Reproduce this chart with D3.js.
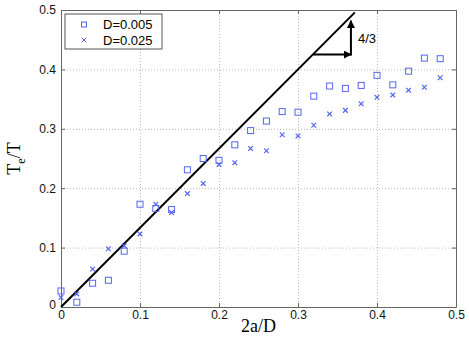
<!DOCTYPE html>
<html>
<head>
<meta charset="utf-8">
<script src="https://cdn.jsdelivr.net/npm/d3@7"></script>
<style>
  body { margin: 0; background: #fff; }
  svg { display: block; }
</style>
</head>
<body>
<svg id="chart" width="469" height="351"></svg>
<script>
// data
const xs = [0, 0.02, 0.04, 0.06, 0.08, 0.10, 0.12, 0.14, 0.16, 0.18, 0.20, 0.22, 0.24,
            0.26, 0.28, 0.30, 0.32, 0.34, 0.36, 0.38, 0.40, 0.42, 0.44, 0.46, 0.48];
const d005 = [0.027, 0.008, 0.040, 0.045, 0.094, 0.173, 0.166, 0.164, 0.231, 0.250, 0.247, 0.273, 0.297,
              0.313, 0.329, 0.328, 0.355, 0.372, 0.368, 0.373, 0.390, 0.374, 0.397, 0.419, 0.418];
const d025 = [0.016, 0.022, 0.064, 0.098, 0.103, 0.123, 0.173, 0.159, 0.191, 0.208, 0.240, 0.243, 0.267,
              0.263, 0.290, 0.288, 0.306, 0.325, 0.331, 0.342, 0.353, 0.357, 0.365, 0.370, 0.386];
const ticks = [0, 0.1, 0.2, 0.3, 0.4, 0.5];
const seriesNames = ["D=0.005", "D=0.025"];
const slopeLine = [[0, 0], [0.372, 0.496]];
const triangle = {x0: 0.319, x1: 0.367, y0: 0.425, y1: 0.482, label: "4/3"};

const svg = d3.select("#chart");
const margin = {left: 61, right: 13, top: 10, bottom: 44};
const W = 469, H = 351;

const x = d3.scaleLinear().domain([0, 0.5]).range([margin.left, W - margin.right]);
const y = d3.scaleLinear().domain([0, 0.5]).range([H - margin.bottom, margin.top]);

const blue = "#5566ee";
const font = "'Liberation Sans', Arial, sans-serif";

// grid
const grid = svg.append("g")
    .attr("stroke", "#bbb")
    .attr("stroke-dasharray", "1,2")
    .attr("stroke-width", 1);
grid.selectAll("line.v")
    .data(ticks.slice(1, -1))
    .enter().append("line")
    .attr("x1", d => x(d) + 0.5).attr("x2", d => x(d) + 0.5)
    .attr("y1", y(0.5)).attr("y2", y(0));
grid.selectAll("line.h")
    .data(ticks.slice(1, -1))
    .enter().append("line")
    .attr("x1", x(0)).attr("x2", x(0.5))
    .attr("y1", d => y(d) + 0.5).attr("y2", d => y(d) + 0.5);

// axes with inward ticks
const fmt = d => d === 0 ? "0" : d3.format(".1f")(d);
const xAxis = svg.append("g")
    .attr("transform", `translate(0,${y(0)})`)
    .call(d3.axisBottom(x).tickValues(ticks).tickSizeInner(-4).tickSizeOuter(0).tickPadding(3).tickFormat(fmt));
const yAxis = svg.append("g")
    .attr("transform", `translate(${x(0)},0)`)
    .call(d3.axisLeft(y).tickValues(ticks).tickSizeInner(-4).tickSizeOuter(0).tickPadding(5).tickFormat(fmt));
svg.append("g")
    .attr("transform", `translate(0,${y(0.5)})`)
    .call(d3.axisTop(x).tickValues(ticks).tickSizeInner(-4).tickSizeOuter(0).tickFormat(""));
svg.append("g")
    .attr("transform", `translate(${x(0.5)},0)`)
    .call(d3.axisRight(y).tickValues(ticks).tickSizeInner(-4).tickSizeOuter(0).tickFormat(""));

svg.selectAll(".domain, .tick line").attr("stroke", "#666");
svg.selectAll(".tick text")
    .attr("font-family", font)
    .attr("font-size", 12)
    .attr("fill", "#111");
yAxis.select(".tick text").attr("dy", "0.1em");

// axis labels
svg.append("text")
    .attr("x", (x(0) + x(0.5)) / 2)
    .attr("y", 332)
    .attr("text-anchor", "middle")
    .attr("font-family", "'Liberation Serif', 'Times New Roman', serif")
    .attr("font-size", 18)
    .text("2a/D");

const ylab = svg.append("text")
    .attr("transform", `translate(20,${(y(0) + y(0.5)) / 2}) rotate(-90)`)
    .attr("text-anchor", "middle")
    .attr("font-family", "'Liberation Serif', 'Times New Roman', serif")
    .attr("font-size", 18);
ylab.append("tspan").text("T");
ylab.append("tspan").attr("font-size", 12).attr("dy", 5).text("e");
ylab.append("tspan").attr("dy", -5).text("/T");

const plot = svg.append("g");

// 4/3 line
plot.append("path")
    .datum(slopeLine)
    .attr("fill", "none")
    .attr("stroke", "#000")
    .attr("stroke-width", 2)
    .attr("d", d3.line().x(d => x(d[0])).y(d => y(d[1])));

// squares
plot.append("g")
    .selectAll("rect")
    .data(xs.map((v, i) => [v, d005[i]]))
    .enter().append("rect")
    .attr("x", d => x(d[0]) - 3)
    .attr("y", d => y(d[1]) - 3)
    .attr("width", 6).attr("height", 6)
    .attr("fill", "none")
    .attr("stroke", blue)
    .attr("stroke-width", 1);

// crosses
const cross = d3.symbol().type(d3.symbolX).size(16);
plot.append("g")
    .selectAll("path")
    .data(xs.map((v, i) => [v, d025[i]]))
    .enter().append("path")
    .attr("transform", d => `translate(${x(d[0])},${y(d[1])})`)
    .attr("d", cross)
    .attr("fill", "none")
    .attr("stroke", blue)
    .attr("stroke-width", 1.2);

// slope triangle with arrows
svg.append("defs").append("marker")
    .attr("id", "arrow")
    .attr("viewBox", "0 0 10 10")
    .attr("refX", 9).attr("refY", 5)
    .attr("markerWidth", 8).attr("markerHeight", 8)
    .attr("markerUnits", "userSpaceOnUse")
    .attr("orient", "auto")
    .append("path")
    .attr("d", "M0,0L10,5L0,10z")
    .attr("fill", "#000");

plot.append("line")
    .attr("x1", x(triangle.x0)).attr("x2", x(triangle.x1))
    .attr("y1", y(triangle.y0)).attr("y2", y(triangle.y0))
    .attr("stroke", "#000").attr("stroke-width", 2)
    .attr("marker-end", "url(#arrow)");
plot.append("line")
    .attr("x1", x(triangle.x1)).attr("x2", x(triangle.x1))
    .attr("y1", y(triangle.y0) + 1).attr("y2", y(triangle.y1))
    .attr("stroke", "#000").attr("stroke-width", 2)
    .attr("marker-end", "url(#arrow)");
plot.append("text")
    .attr("x", x(triangle.x1) + 7)
    .attr("y", (y(triangle.y0) + y(triangle.y1)) / 2 + 5)
    .attr("font-family", font)
    .attr("font-size", 13)
    .text(triangle.label);

// legend
const legend = svg.append("g").attr("transform", "translate(65,14)");
legend.append("rect")
    .attr("width", 97).attr("height", 35)
    .attr("fill", "#fff")
    .attr("stroke", "#555")
    .attr("stroke-width", 1);
legend.append("rect")
    .attr("x", 16.5).attr("y", 8).attr("width", 5).attr("height", 5)
    .attr("fill", "none").attr("stroke", blue);
legend.append("path")
    .attr("transform", "translate(19,26)")
    .attr("d", cross)
    .attr("fill", "none").attr("stroke", blue);
legend.selectAll("text.lg")
    .data(seriesNames)
    .enter().append("text")
    .attr("x", 38)
    .attr("y", (d, i) => 15 + i * 16)
    .attr("font-family", font)
    .attr("font-size", 13)
    .text(d => d);
</script>
</body>
</html>
